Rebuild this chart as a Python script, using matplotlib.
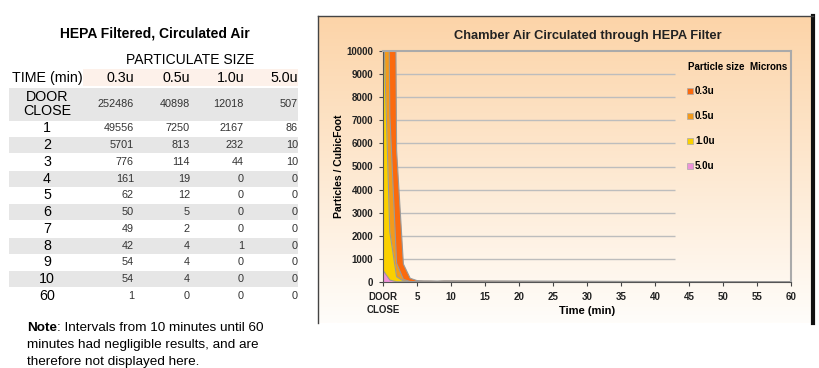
import numpy as np
import matplotlib.pyplot as plt
from matplotlib.patches import Rectangle
from matplotlib.lines import Line2D
from matplotlib.transforms import offset_copy

plt.rcParams['font.family'] = ['Liberation Sans', 'DejaVu Sans']

# table / chart data
time_labels = ['DOOR\nCLOSE', '1', '2', '3', '4', '5', '6', '7', '8', '9', '10', '60']
time_min = [0, 1, 2, 3, 4, 5, 6, 7, 8, 9, 10, 60]
sizes = ['0.3u', '0.5u', '1.0u', '5.0u']
p03 = [252486, 49556, 5701, 776, 161, 62, 50, 49, 42, 54, 54, 1]
p05 = [40898, 7250, 813, 114, 19, 12, 5, 2, 4, 4, 4, 0]
p10 = [12018, 2167, 232, 44, 0, 0, 0, 0, 1, 0, 0, 0]
p50 = [507, 86, 10, 10, 0, 0, 0, 0, 0, 0, 0, 0]
series = [p03, p05, p10, p50]
colors = ['#FB6A0E', '#F39A1B', '#FAD000', '#EE92D8']

W, H = 819, 368
fig = plt.figure(figsize=(W / 100, H / 100), dpi=100)

# ---- table on the left (pixel coordinates overlay) ----
tab = fig.add_axes([0, 0, 1, 1])
tab.set_xlim(0, W)
tab.set_ylim(H, 0)
tab.axis('off')

tab.text(155, 34, 'HEPA Filtered, Circulated Air', ha='center', va='center',
         fontsize=10, fontweight='bold')
tab.text(190, 60, 'PARTICULATE SIZE', ha='center', va='center', fontsize=10)
tab.add_patch(Rectangle((83, 69), 215, 17, color='#FDF1EA', lw=0))
tab.text(47, 78, 'TIME (min)', ha='center', va='center', fontsize=10.3)
col_right = [134, 190, 244, 298]
for cx, s in zip(col_right, sizes):
    tab.text(cx, 78, s, ha='right', va='center', fontsize=10.3)

row_y = [104, 128, 145, 162, 179, 195, 212, 229, 246, 262, 279, 296]
for i, (lab, ry) in enumerate(zip(time_labels, row_y)):
    if i % 2 == 0 and i < 11:
        h = 33 if i == 0 else 16.8
        tab.add_patch(Rectangle((9, ry - h / 2), 289, h, color='#E6E6E6', lw=0))
    tab.text(47, ry, lab, ha='center', va='center', fontsize=10.3, linespacing=1.05)
    for cx, ser in zip(col_right, series):
        tab.text(cx, ry, str(ser[i]), ha='right', va='center', fontsize=7.8,
                 color='#333333')

note = tab.text(27, 328, 'Note', ha='left', va='center', fontsize=9.7, fontweight='bold')
fig.canvas.draw()
nw = note.get_window_extent().width
tab.text(27, 328, ': Intervals from 10 minutes until 60', ha='left', va='center',
         fontsize=9.7, transform=offset_copy(tab.transData, fig, x=nw, units='dots'))
tab.text(27, 345, 'minutes had negligible results, and are', ha='left', va='center', fontsize=9.7)
tab.text(27, 362, 'therefore not displayed here.', ha='left', va='center', fontsize=9.7)

# ---- chart frame with gradient ----
fl, fr, ft, fb = 318, 813, 16, 323
bg = fig.add_axes([fl / W, 1 - fb / H, (fr - fl) / W, (fb - ft) / H])
grad = np.linspace(0, 1, 256)[:, None]
top = np.array([252, 212, 168]) / 255
bot = np.array([255, 253, 250]) / 255
img = top[None, None, :] * (1 - grad[:, :, None]) + bot[None, None, :] * grad[:, :, None]
bg.imshow(img, aspect='auto', extent=[0, 1, 0, 1])
bg.set_xticks([])
bg.set_yticks([])
for s in ['top', 'left']:
    bg.spines[s].set_color('#444444')
    bg.spines[s].set_linewidth(1)
bg.spines['bottom'].set_visible(False)
bg.spines['right'].set_color('#111111')
bg.spines['right'].set_linewidth(3)

# ---- chart ----
ax = fig.add_axes([383 / W, 1 - 282 / H, (791 - 383) / W, (282 - 51) / H])
ax.set_facecolor('none')
for ser, c in zip(series, colors):
    ax.fill_between(time_min, ser, 0, color=c, lw=0, zorder=2)
    ax.plot(time_min, ser, color='#9A9A9A', lw=0.8, zorder=2)

ax.set_xlim(0, 60)
ax.set_ylim(0, 10000)
ax.hlines(np.arange(1000, 10000, 1000), 0, 43, color='#BDBDBD', lw=1, zorder=1)

xt = np.arange(0, 61, 5)
ax.set_xticks(xt)
ax.set_xticklabels(['DOOR\nCLOSE'] + [str(v) for v in xt[1:]], fontsize=7,
                   fontweight='bold', color='#222222', linespacing=1.4)
yt = np.arange(0, 10001, 1000)
ax.set_yticks(yt)
ax.set_yticklabels([str(v) for v in yt], fontsize=7, fontweight='bold', color='#222222')
ax.tick_params(length=3, width=0.8, color='#444444', pad=4)
for s in ['left', 'bottom']:
    ax.spines[s].set_color('#555555')
for s in ['top', 'right']:
    ax.spines[s].set_color('#AAAAAA')
    ax.spines[s].set_linewidth(1.5)

ax.set_xlabel('Time (min)', fontsize=8, fontweight='bold', va='center')
ax.xaxis.set_label_coords(0.5, -0.125)
ax.set_ylabel('Particles / CubicFoot', fontsize=7.5, fontweight='bold', va='center')
ax.yaxis.set_label_coords(-0.109, 0.5)
fig.text(588 / W, 1 - 36 / H, 'Chamber Air Circulated through HEPA Filter',
         ha='center', va='center', fontsize=9.3, fontweight='bold', color='#222222')

handles = [Line2D([], [], ls='none', marker='s', markersize=4, markerfacecolor=c,
                  markeredgecolor='#AAAAAA', markeredgewidth=0.5) for c in colors]
leg = ax.legend(handles, sizes, title='Particle size  Microns', loc='upper left',
                bbox_to_anchor=(0.728, 0.985), frameon=False, labelspacing=1.55,
                handlelength=0.5, handletextpad=0.25, borderpad=0.3,
                prop={'size': 7, 'weight': 'bold'},
                title_fontproperties={'size': 7, 'weight': 'bold'}, alignment='left')
leg._legend_box.sep = 10

fig.savefig('out.png', dpi=100)
